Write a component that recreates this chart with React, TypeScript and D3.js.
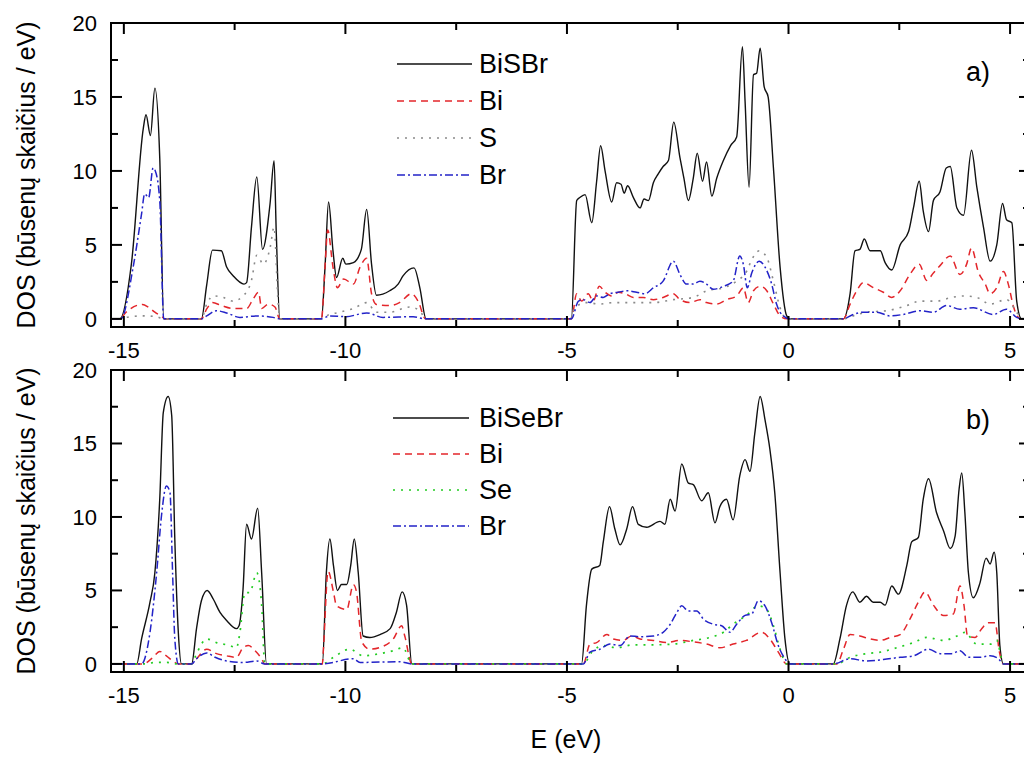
import React from "react";
import * as d3 from "d3";

type P = [number, number];

// x ticks / y ticks
const xMajor = [-15, -10, -5, 0, 5];
const xMinor = [-12.5, -7.5, -2.5, 2.5];
const yMajor = [0, 5, 10, 15, 20];
const yMinor = [2.5, 7.5, 12.5, 17.5];

// ---- Panel a) BiSBr ----
const aTotal: P[] = [
  [-15.29, 0], [-15.09, 0], [-14.83, 3.7], [-14.56, 12.9], [-14.5, 13.8], [-14.4, 12.4], [-14.3, 15.6], [-14.19, 10.9], [-14.1, 0],
  [-13.25, 0], [-13.13, 2.3], [-13.0, 4.65], [-12.8, 4.6], [-12.68, 3.5], [-12.53, 2.9], [-12.29, 2.35], [-12.23, 2.45], [-12.12, 6.2], [-12.0, 9.6], [-11.87, 4.7], [-11.7, 7.8], [-11.61, 10.7], [-11.56, 5.8], [-11.48, 0],
  [-10.54, 0], [-10.46, 3.5], [-10.38, 7.9], [-10.28, 4.6], [-10.2, 2.8], [-10.06, 4.1], [-9.99, 3.7], [-9.82, 3.8], [-9.64, 4.7], [-9.52, 7.4], [-9.41, 3.7], [-9.3, 1.6], [-9.0, 1.9], [-8.81, 2.35], [-8.7, 2.9], [-8.45, 3.45], [-8.32, 2.1], [-8.18, 0],
  [-4.9, 0], [-4.78, 8.0], [-4.71, 8.2], [-4.59, 8.4], [-4.44, 6.5], [-4.33, 9.3], [-4.24, 11.7], [-4.14, 10.0], [-3.99, 7.9], [-3.88, 9.2], [-3.78, 9.1], [-3.71, 8.5], [-3.63, 9.0], [-3.5, 8.2], [-3.35, 7.5], [-3.26, 8.1], [-3.16, 8.0], [-3.05, 9.2], [-2.94, 9.8], [-2.83, 10.3], [-2.71, 10.7], [-2.59, 13.3], [-2.45, 10.9], [-2.36, 9.5], [-2.26, 8.0], [-2.15, 9.5], [-2.06, 11.2], [-1.94, 9.3], [-1.85, 10.6], [-1.73, 8.3], [-1.62, 9.5], [-1.47, 10.7], [-1.31, 11.7], [-1.17, 12.3], [-1.04, 18.4], [-0.98, 14.7], [-0.89, 8.9], [-0.79, 16.5], [-0.72, 16.6], [-0.64, 18.3], [-0.55, 15.7], [-0.46, 15.0], [-0.34, 10.2], [-0.19, 3.5], [-0.04, 0.2], [0.03, 0],
  [1.24, 0], [1.39, 1.7], [1.5, 4.6], [1.61, 4.7], [1.71, 5.4], [1.84, 4.6], [2.07, 4.6], [2.18, 3.8], [2.33, 3.3], [2.52, 5.0], [2.71, 5.9], [2.82, 7.5], [2.95, 9.3], [3.04, 7.3], [3.16, 5.9], [3.27, 8.0], [3.42, 8.6], [3.56, 10.2], [3.65, 10.3], [3.8, 7.5], [3.95, 7.0], [4.13, 11.4], [4.25, 8.9], [4.4, 6.2], [4.55, 3.9], [4.7, 5.0], [4.83, 7.8], [4.92, 6.7], [5.04, 6.5], [5.15, 1.2], [5.26, 0], [5.45, 0],
];
const aBi: P[] = [
  [-15.29, 0], [-15.09, 0], [-14.95, 0.45], [-14.58, 0.97], [-14.45, 0.8], [-14.3, 0.45], [-14.12, 0.1], [-14.08, 0],
  [-13.25, 0], [-13.13, 0.67], [-13.0, 1.1], [-12.8, 0.9], [-12.53, 0.7], [-12.23, 0.7], [-12.08, 1.35], [-11.96, 1.8], [-11.89, 0.7], [-11.74, 1.0], [-11.59, 0.8], [-11.48, 0],
  [-10.54, 0], [-10.46, 3.5], [-10.4, 6.0], [-10.28, 3.5], [-10.18, 2.1], [-10.04, 2.7], [-9.82, 2.35], [-9.67, 3.5], [-9.52, 4.1], [-9.41, 1.7], [-9.3, 0.97], [-9.0, 0.9], [-8.78, 1.1], [-8.51, 1.7], [-8.36, 1.2], [-8.19, 0],
  [-4.9, 0], [-4.78, 1.7], [-4.67, 1.2], [-4.52, 1.7], [-4.41, 1.2], [-4.27, 2.2], [-4.14, 1.8], [-3.99, 1.55], [-3.84, 1.8], [-3.69, 1.7], [-3.5, 1.45], [-3.28, 1.45], [-3.05, 1.3], [-2.83, 1.45], [-2.6, 1.7], [-2.45, 1.3], [-2.22, 1.1], [-2.0, 1.3], [-1.85, 1.1], [-1.62, 1.0], [-1.4, 1.3], [-1.17, 1.55], [-1.02, 2.1], [-0.91, 1.1], [-0.79, 1.9], [-0.64, 2.2], [-0.49, 1.9], [-0.34, 1.0], [-0.19, 0.2], [-0.04, 0],
  [1.24, 0], [1.39, 1.0], [1.54, 1.9], [1.69, 2.45], [1.92, 2.1], [2.14, 1.8], [2.33, 1.45], [2.52, 1.9], [2.74, 3.0], [2.95, 3.7], [3.12, 2.6], [3.27, 3.1], [3.42, 3.6], [3.65, 4.25], [3.87, 3.0], [4.02, 3.7], [4.13, 4.8], [4.28, 3.2], [4.44, 2.35], [4.55, 1.7], [4.7, 2.1], [4.85, 3.2], [4.96, 2.35], [5.08, 0.8], [5.23, 0], [5.45, 0],
];
const aS: P[] = [
  [-15.29, 0], [-15.05, 0], [-14.95, 0.1], [-14.58, 0.2], [-14.27, 0.15], [-14.1, 0],
  [-13.25, 0], [-13.13, 1.0], [-12.98, 1.55], [-12.76, 1.45], [-12.53, 1.2], [-12.31, 1.55], [-12.12, 2.6], [-12.0, 4.3], [-11.85, 3.7], [-11.7, 4.8], [-11.61, 6.2], [-11.52, 1.2], [-11.48, 0],
  [-10.54, 0], [-10.43, 0.2], [-10.13, 0.45], [-9.82, 0.7], [-9.52, 1.1], [-9.3, 0.45], [-9.0, 0.45], [-8.55, 0.8], [-8.32, 0.55], [-8.19, 0],
  [-4.92, 0], [-4.82, 0.75], [-4.56, 1.1], [-4.26, 1.0], [-3.95, 1.1], [-3.5, 1.1], [-3.05, 1.1], [-2.6, 1.3], [-2.15, 1.45], [-1.85, 1.9], [-1.47, 2.1], [-1.17, 2.55], [-0.94, 3.25], [-0.83, 4.0], [-0.66, 4.6], [-0.49, 4.15], [-0.34, 2.55], [-0.19, 0.75], [-0.04, 0],
  [1.24, 0], [1.46, 0.2], [1.76, 0.45], [2.22, 0.55], [2.67, 0.9], [2.97, 1.2], [3.34, 1.2], [3.68, 1.45], [3.95, 1.55], [4.25, 1.45], [4.55, 1.0], [4.92, 1.3], [5.15, 0.45], [5.26, 0], [5.45, 0],
];
const aBr: P[] = [
  [-15.29, 0], [-15.07, 0], [-14.79, 3.5], [-14.6, 7.1], [-14.53, 8.45], [-14.44, 8.2], [-14.34, 10.2], [-14.29, 10.0], [-14.19, 8.0], [-14.1, 0],
  [-13.25, 0], [-13.13, 0.2], [-12.91, 0.55], [-12.68, 0.4], [-12.38, 0.1], [-12.0, 0.2], [-11.63, 0.1], [-11.48, 0],
  [-10.54, 0], [-10.36, 0.2], [-9.99, 0.15], [-9.52, 0.4], [-9.15, 0.1], [-8.47, 0.15], [-8.19, 0],
  [-4.9, 0], [-4.74, 1.2], [-4.63, 1.3], [-4.48, 1.1], [-4.33, 1.55], [-4.18, 1.45], [-4.03, 1.7], [-3.84, 1.8], [-3.65, 1.9], [-3.43, 1.8], [-3.24, 1.7], [-3.05, 2.1], [-2.83, 2.55], [-2.6, 3.9], [-2.45, 3.0], [-2.3, 2.35], [-2.15, 2.35], [-2.0, 2.55], [-1.85, 2.35], [-1.7, 2.0], [-1.47, 2.2], [-1.25, 2.55], [-1.1, 4.25], [-1.02, 3.7], [-0.93, 2.1], [-0.83, 3.1], [-0.66, 3.9], [-0.53, 3.5], [-0.38, 2.35], [-0.27, 1.0], [-0.12, 0.2], [0.03, 0],
  [1.24, 0], [1.46, 0.3], [1.69, 0.45], [1.99, 0.45], [2.29, 0.2], [2.59, 0.3], [2.97, 0.55], [3.27, 0.45], [3.57, 0.9], [3.87, 0.65], [4.17, 0.75], [4.62, 0.3], [4.92, 0.65], [5.15, 0.1], [5.26, 0], [5.45, 0],
];

// ---- Panel b) BiSeBr ----
const bTotal: P[] = [
  [-15.29, 0], [-14.71, 0], [-14.6, 1.7], [-14.41, 4.2], [-14.3, 6.2], [-14.19, 11.2], [-14.11, 17.1], [-14.0, 18.2], [-13.92, 16.9], [-13.85, 8.5], [-13.77, 2.1], [-13.7, 0],
  [-13.47, 0], [-13.36, 2.4], [-13.25, 4.3], [-13.12, 5.0], [-12.98, 4.4], [-12.83, 3.5], [-12.68, 2.95], [-12.46, 2.4], [-12.4, 2.6], [-12.31, 5.1], [-12.23, 9.5], [-12.12, 8.5], [-11.98, 10.6], [-11.89, 6.2], [-11.78, 0],
  [-10.52, 0], [-10.43, 6.2], [-10.35, 8.5], [-10.27, 6.7], [-10.18, 5.0], [-10.09, 5.4], [-9.97, 5.4], [-9.88, 6.7], [-9.8, 8.5], [-9.71, 6.2], [-9.6, 1.9], [-9.45, 1.8], [-9.22, 2.0], [-8.99, 2.4], [-8.85, 3.5], [-8.72, 4.9], [-8.62, 4.0], [-8.5, 0],
  [-4.67, 0], [-4.56, 4.0], [-4.44, 6.45], [-4.26, 6.7], [-4.18, 8.3], [-4.04, 10.7], [-3.92, 9.2], [-3.8, 8.1], [-3.65, 9.2], [-3.52, 10.7], [-3.39, 9.5], [-3.2, 9.3], [-2.9, 9.7], [-2.79, 9.5], [-2.67, 11.2], [-2.56, 10.4], [-2.41, 13.6], [-2.26, 12.3], [-2.15, 12.2], [-1.96, 11.1], [-1.81, 11.65], [-1.66, 9.6], [-1.55, 10.7], [-1.4, 11.2], [-1.25, 9.8], [-1.1, 12.8], [-0.98, 13.9], [-0.87, 13.1], [-0.76, 15.7], [-0.64, 18.2], [-0.53, 16.6], [-0.42, 14.6], [-0.31, 11.65], [-0.19, 6.2], [-0.08, 1.7], [0.03, 0],
  [1.01, 0], [1.16, 1.7], [1.31, 4.0], [1.45, 4.9], [1.61, 4.2], [1.76, 4.6], [1.91, 4.2], [2.07, 4.2], [2.18, 4.0], [2.33, 5.3], [2.48, 4.75], [2.67, 6.7], [2.78, 8.3], [2.93, 8.6], [3.04, 11.2], [3.16, 12.6], [3.34, 10.3], [3.5, 9.05], [3.65, 7.85], [3.76, 8.7], [3.85, 11.9], [3.91, 13.0], [3.98, 10.3], [4.06, 6.2], [4.17, 4.5], [4.32, 5.5], [4.46, 7.2], [4.55, 6.8], [4.64, 7.6], [4.7, 6.2], [4.77, 1.25], [4.85, 0], [5.45, 0],
];
const bBi: P[] = [
  [-15.29, 0], [-14.57, 0], [-14.34, 0.45], [-14.19, 0.85], [-14.04, 0.55], [-13.85, 0.1], [-13.77, 0],
  [-13.47, 0], [-13.36, 0.35], [-13.13, 1.0], [-12.91, 0.7], [-12.68, 0.55], [-12.46, 0.45], [-12.31, 1.1], [-12.19, 1.25], [-12.04, 0.9], [-11.89, 0.35], [-11.82, 0],
  [-10.52, 0], [-10.5, 0.8], [-10.39, 6.3], [-10.27, 4.9], [-10.2, 3.95], [-9.97, 3.7], [-9.82, 5.4], [-9.75, 4.9], [-9.63, 1.5], [-9.45, 1.0], [-9.15, 1.2], [-8.92, 1.7], [-8.73, 2.6], [-8.66, 1.9], [-8.5, 0],
  [-4.63, 0], [-4.48, 1.35], [-4.33, 1.45], [-4.1, 2.0], [-3.95, 1.7], [-3.73, 1.6], [-3.54, 1.9], [-3.35, 1.7], [-3.05, 1.6], [-2.75, 1.45], [-2.45, 1.6], [-2.15, 1.5], [-1.85, 1.35], [-1.55, 1.1], [-1.25, 1.35], [-0.95, 1.6], [-0.61, 2.15], [-0.42, 1.7], [-0.23, 0.8], [-0.04, 0],
  [1.09, 0], [1.24, 1.0], [1.39, 2.0], [1.61, 1.9], [1.84, 1.7], [2.07, 1.6], [2.29, 1.8], [2.52, 2.0], [2.74, 3.05], [2.93, 4.2], [3.08, 4.9], [3.27, 4.0], [3.5, 3.3], [3.72, 3.4], [3.87, 5.3], [3.96, 4.0], [4.04, 1.9], [4.21, 1.8], [4.36, 2.4], [4.51, 2.8], [4.66, 2.8], [4.76, 0.8], [4.85, 0], [5.45, 0],
];
const bSe: P[] = [
  [-15.29, 0], [-14.57, 0], [-14.26, 0.1], [-14.04, 0.1], [-13.77, 0],
  [-13.47, 0], [-13.36, 0.7], [-13.13, 1.7], [-12.91, 1.45], [-12.61, 1.25], [-12.46, 1.1], [-12.38, 2.15], [-12.27, 4.85], [-12.16, 4.85], [-12.0, 6.2], [-11.89, 4.0], [-11.82, 0],
  [-10.52, 0], [-10.27, 0.45], [-9.9, 1.0], [-9.6, 0.55], [-9.22, 0.7], [-8.92, 0.9], [-8.7, 1.1], [-8.5, 0],
  [-4.63, 0], [-4.44, 0.8], [-4.18, 1.25], [-3.88, 1.1], [-3.5, 1.3], [-3.05, 1.3], [-2.6, 1.35], [-2.15, 1.6], [-1.77, 1.8], [-1.47, 2.15], [-1.25, 2.7], [-0.95, 3.3], [-0.68, 3.95], [-0.49, 3.7], [-0.34, 2.6], [-0.19, 1.0], [-0.04, 0],
  [1.09, 0], [1.39, 0.45], [1.76, 0.7], [2.07, 0.8], [2.44, 1.1], [2.82, 1.45], [3.12, 1.8], [3.5, 1.6], [3.8, 1.9], [3.98, 2.15], [4.25, 1.35], [4.55, 1.35], [4.7, 1.6], [4.81, 0.35], [4.87, 0], [5.45, 0],
];
const bBr: P[] = [
  [-15.29, 0], [-14.6, 0], [-14.41, 2.15], [-14.26, 6.2], [-14.15, 10.1], [-14.04, 12.1], [-13.96, 11.7], [-13.9, 6.2], [-13.85, 1.7], [-13.77, 0],
  [-13.47, 0], [-13.36, 0.35], [-13.13, 0.75], [-12.94, 0.45], [-12.68, 0.2], [-12.31, 0.1], [-12.0, 0.2], [-11.82, 0],
  [-10.52, 0], [-9.82, 0.35], [-9.67, 0.1], [-8.77, 0.15], [-8.5, 0],
  [-4.63, 0], [-4.48, 0.8], [-4.26, 1.0], [-4.03, 1.35], [-3.8, 1.25], [-3.58, 1.9], [-3.35, 1.85], [-3.05, 1.9], [-2.83, 2.15], [-2.67, 2.7], [-2.52, 3.5], [-2.41, 3.95], [-2.26, 3.6], [-2.07, 3.6], [-1.92, 3.05], [-1.7, 2.7], [-1.51, 2.6], [-1.32, 2.15], [-1.17, 2.7], [-0.98, 3.3], [-0.83, 3.4], [-0.68, 4.3], [-0.53, 3.95], [-0.38, 2.8], [-0.23, 1.25], [-0.08, 0.35], [0.03, 0],
  [1.01, 0], [1.39, 0.35], [1.76, 0.2], [2.14, 0.3], [2.52, 0.45], [2.82, 0.55], [3.16, 1.0], [3.42, 0.7], [3.68, 0.7], [3.87, 0.9], [4.06, 0.45], [4.32, 0.45], [4.55, 0.55], [4.74, 0.35], [4.85, 0], [5.45, 0],
];

const aNames = ["BiSBr", "Bi", "S", "Br"];
const bNames = ["BiSeBr", "Bi", "Se", "Br"];

const FONT = "'Liberation Sans', Arial, Helvetica, sans-serif";

type Style = { color: string; dash?: string; width: number };
const sTotal: Style = { color: "#111", width: 1.4 };
const sBi: Style = { color: "#e3262b", dash: "7,5", width: 1.5 };
const sS: Style = { color: "#8a8a8a", dash: "2,6", width: 1.6 };
const sSe: Style = { color: "#22cc22", dash: "2,6", width: 1.7 };
const sBr: Style = { color: "#2323c8", dash: "8,3,2,3", width: 1.5 };

const W = 1024, H = 757;
const left = 111, right = 1030;
const xDomain: [number, number] = [-15.29, 5.45];

type PanelProps = {
  top: number; bottom: number; id: string;
  series: { data: P[]; style: Style }[];
  names: string[];
  legendX0: number; legendX1: number; legendY: number[];
  tag: string; tagY: number;
};

function Panel(p: PanelProps) {
  const x = d3.scaleLinear().domain(xDomain).range([left, right]);
  const y = d3.scaleLinear().domain([-0.55, 20]).range([p.bottom, p.top]);
  const line = d3.line<P>().x(d => x(d[0])).y(d => y(d[1])).curve(d3.curveMonotoneX);
  const maj = 11, mnr = 7;
  return (
    <g>
      <defs>
        <clipPath id={p.id}>
          <rect x={left} y={p.top} width={right - left} height={p.bottom - p.top} />
        </clipPath>
      </defs>
      <g clipPath={`url(#${p.id})`}>
        {p.series.map((s, i) => (
          <path key={i} d={line(s.data) || ""} fill="none" stroke={s.style.color}
            strokeWidth={s.style.width} strokeDasharray={s.style.dash} strokeLinejoin="round" />
        ))}
      </g>
      <rect x={left} y={p.top} width={right - left} height={p.bottom - p.top} fill="none" stroke="#000" strokeWidth={2} />
      {xMajor.map(v => (
        <g key={"xm" + v}>
          <line x1={x(v)} x2={x(v)} y1={p.bottom} y2={p.bottom - maj} stroke="#000" strokeWidth={2} />
          <line x1={x(v)} x2={x(v)} y1={p.top} y2={p.top + maj} stroke="#000" strokeWidth={2} />
          <text x={x(v)} y={p.bottom + 31} textAnchor="middle" fontSize={22} fontFamily={FONT}>{v}</text>
        </g>
      ))}
      {xMinor.map(v => (
        <g key={"xn" + v}>
          <line x1={x(v)} x2={x(v)} y1={p.bottom} y2={p.bottom - mnr} stroke="#000" strokeWidth={2} />
          <line x1={x(v)} x2={x(v)} y1={p.top} y2={p.top + mnr} stroke="#000" strokeWidth={2} />
        </g>
      ))}
      {yMajor.map(v => (
        <g key={"ym" + v}>
          <line x1={left} x2={left + maj} y1={y(v)} y2={y(v)} stroke="#000" strokeWidth={2} />
          <line x1={right} x2={right - maj} y1={y(v)} y2={y(v)} stroke="#000" strokeWidth={2} />
          <text x={97} y={y(v) + 8} textAnchor="end" fontSize={22} fontFamily={FONT}>{v}</text>
        </g>
      ))}
      {yMinor.map(v => (
        <g key={"yn" + v}>
          <line x1={left} x2={left + mnr} y1={y(v)} y2={y(v)} stroke="#000" strokeWidth={2} />
          <line x1={right} x2={right - mnr} y1={y(v)} y2={y(v)} stroke="#000" strokeWidth={2} />
        </g>
      ))}
      <text transform={`translate(35,${(p.top + p.bottom) / 2}) rotate(-90)`} textAnchor="middle"
        fontSize={25} fontFamily={FONT}>DOS (būsenų skaičius / eV)</text>
      {p.names.map((n, i) => (
        <g key={n + i}>
          <line x1={p.legendX0} x2={p.legendX1} y1={p.legendY[i]} y2={p.legendY[i]}
            stroke={p.series[i].style.color} strokeWidth={p.series[i].style.width}
            strokeDasharray={p.series[i].style.dash} />
          <text x={479} y={p.legendY[i]} dominantBaseline="central" fontSize={27} fontFamily={FONT}>{n}</text>
        </g>
      ))}
      <text x={966} y={p.tagY} dominantBaseline="central" fontSize={27} fontFamily={FONT}>{p.tag}</text>
    </g>
  );
}

export default function App() {
  return (
    <svg width={W} height={H} style={{ position: "absolute", left: 0, top: 0, background: "#fff" }}>
      <rect x={0} y={0} width={W} height={H} fill="#fff" />
      <Panel top={23} bottom={327} id="clipA"
        series={[{ data: aTotal, style: sTotal }, { data: aBi, style: sBi }, { data: aS, style: sS }, { data: aBr, style: sBr }]}
        names={aNames} legendX0={397} legendX1={472} legendY={[64, 101, 138, 175]} tag="a)" tagY={72} />
      <Panel top={370} bottom={672} id="clipB"
        series={[{ data: bTotal, style: sTotal }, { data: bBi, style: sBi }, { data: bSe, style: sSe }, { data: bBr, style: sBr }]}
        names={bNames} legendX0={393} legendX1={469} legendY={[418, 454, 490, 526]} tag="b)" tagY={420} />
      <text x={566} y={748} textAnchor="middle" fontSize={25} fontFamily={FONT}>E (eV)</text>
    </svg>
  );
}
